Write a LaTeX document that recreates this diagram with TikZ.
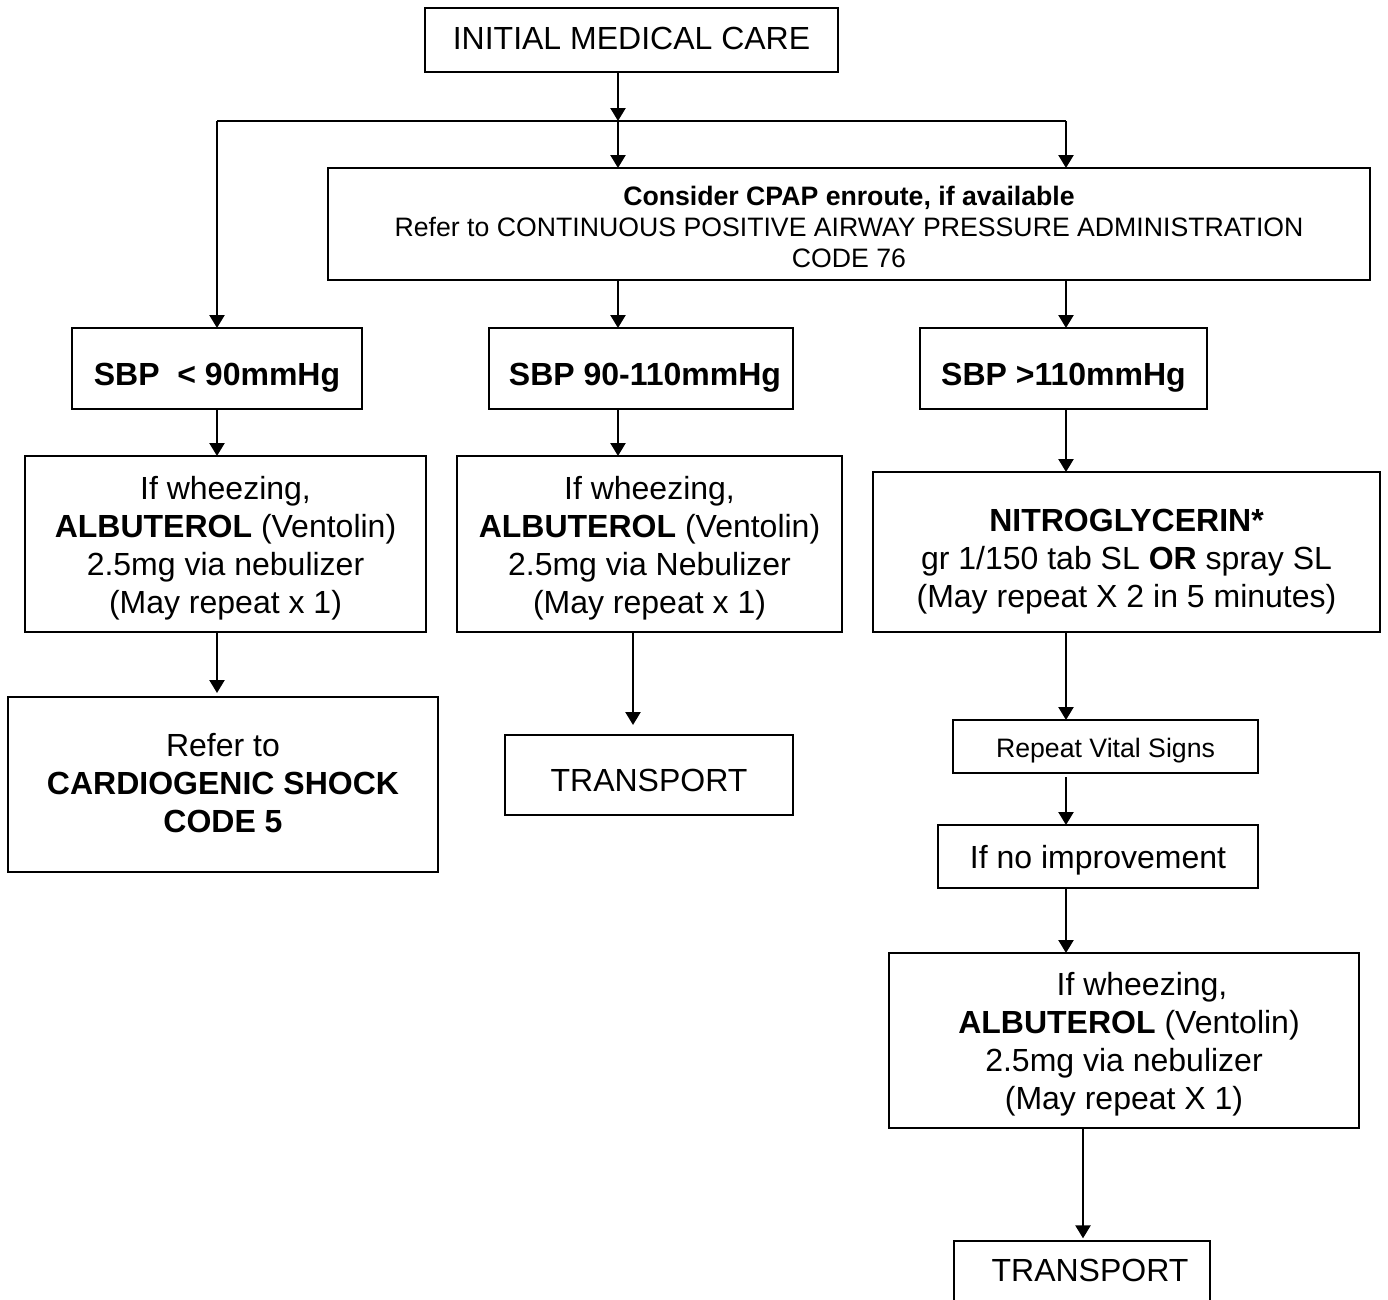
\documentclass[tikz,border=0pt]{standalone}
\usepackage{fontspec}
\setmainfont{Liberation Sans}
\usetikzlibrary{arrows.meta}

% a centred stack of lines, set lower by the optional amount
\newcommand{\boxlines}[2][0pt]{%
  \raisebox{-#1}[\height][\depth]{\begin{tabular}{@{}c@{}}#2\end{tabular}}}
% a framed step given by its corners (in px): name, left, top, right, bottom, text
\newcommand{\flowrect}[7][box]{%
  \node[#1, minimum width={(#5-#3)*0.75pt}, minimum height={(#6-#4)*0.75pt}]
    (#2) at ({(#3+#5)/2},{(#4+#6)/2}) {#7};}

\begin{document}
\begin{tikzpicture}[x=0.75pt, y=-0.75pt,
  box/.style={draw, line width=1.8pt, inner sep=0pt, outer sep=0pt,
              font=\fontsize{24}{28.5}\selectfont},
  smallbox/.style={box, font=\fontsize{20}{23.25}\selectfont},
  wire/.style={line width=1.8pt},
  arr/.style={wire, -{Triangle[width=11.25pt,length=9.75pt]}}]

\useasboundingbox (0,0) rectangle (1388,1299);
\clip (0,0) rectangle (1388,1299);

% ---- steps ----
\flowrect{init}{425}{8}{838}{72}{\boxlines[1.5pt]{INITIAL MEDICAL CARE}\hspace{9pt}}
\flowrect[smallbox]{cpap}{328}{168}{1370}{280}{\boxlines[4.5pt]{\textbf{Consider CPAP enroute, if available}\\
  Refer to CONTINUOUS POSITIVE AIRWAY PRESSURE ADMINISTRATION\\ CODE 76}}

\flowrect{sbp1}{72}{328}{362}{409}{\boxlines[7pt]{\textbf{SBP\ \ < 90mmHg}}}
\flowrect{sbp2}{489}{328}{793}{409}{\hspace{6pt}\boxlines[7pt]{\textbf{SBP 90-110mmHg}}}
\flowrect{sbp3}{920}{328}{1207}{409}{\boxlines[7pt]{\textbf{SBP >110mmHg}}}

\flowrect{alb1}{25}{456}{426}{632}{\boxlines[4pt]{If wheezing,\\ \textbf{ALBUTEROL} (Ventolin)\\
  2.5mg via nebulizer\\ (May repeat x 1)}}
\flowrect{alb2}{457}{456}{842}{632}{\boxlines[4pt]{If wheezing,\\ \textbf{ALBUTEROL} (Ventolin)\\
  2.5mg via Nebulizer\\ (May repeat x 1)}}
\flowrect{nitro}{873}{472}{1380}{632}{\boxlines[7.5pt]{\textbf{NITROGLYCERIN*}\\
  gr 1/150 tab SL \textbf{OR} spray SL\\ (May repeat X 2 in 5 minutes)}\hspace{7pt}}

\flowrect{cardio}{8}{697}{438}{872}{\boxlines[1.5pt]{Refer to\\ \textbf{CARDIOGENIC SHOCK}\\
  \textbf{CODE 5}}\hspace{18pt}}
\flowrect{trans1}{505}{735}{793}{815}{\boxlines[6.5pt]{TRANSPORT}\hspace{13.5pt}}

\flowrect[smallbox]{vital}{953}{720}{1258}{773}{\boxlines[3.5pt]{Repeat Vital Signs}}
\flowrect{noimp}{938}{825}{1258}{888}{\boxlines[3pt]{If no improvement}}
\flowrect{alb3}{889}{953}{1359}{1128}{\boxlines[3pt]{\hspace*{27pt}If wheezing,\\
  \hspace*{7.5pt}\textbf{ALBUTEROL} (Ventolin)\\ 2.5mg via nebulizer\\ (May repeat X 1)}}
\flowrect{trans2}{954}{1241}{1210}{1301}{\hspace{12pt}\boxlines[2pt]{TRANSPORT}}

% ---- branching bus and columns ----
\coordinate (busL) at (217,121);
\coordinate (busM) at (618,121);
\coordinate (busR) at (1066,121);
\coordinate (colT) at (633,0);
\coordinate (colU) at (1083,0);

\draw[wire] (busL) -- (busR);
\draw[arr] (init.south -| busM) -- (busM);
\draw[arr] (busM) -- (cpap.north -| busM);
\draw[arr] (busR) -- (cpap.north -| busR);
\draw[arr] (busL) -- (sbp1.north -| busL);

% ---- connectors ----
\draw[arr] (cpap.south -| busM) -- (sbp2.north -| busM);
\draw[arr] (cpap.south -| busR) -- (sbp3.north -| busR);
\draw[arr] (sbp1.south -| busL) -- (alb1.north -| busL);
\draw[arr] (sbp2.south -| busM) -- (alb2.north -| busM);
\draw[arr] (sbp3.south -| busR) -- (nitro.north -| busR);
\draw[arr, shorten >=3pt] (alb1.south -| busL) -- (cardio.north -| busL);
\draw[arr, shorten >=7.5pt] (alb2.south -| colT) -- (trans1.north -| colT);
\draw[arr] (nitro.south -| busR) -- (vital.north -| busR);
\draw[arr, shorten <=3pt] (vital.south -| busR) -- (noimp.north -| busR);
\draw[arr] (noimp.south -| busR) -- (alb3.north -| busR);
\draw[arr, shorten >=2pt] (alb3.south -| colU) -- (trans2.north -| colU);

\end{tikzpicture}
\end{document}
